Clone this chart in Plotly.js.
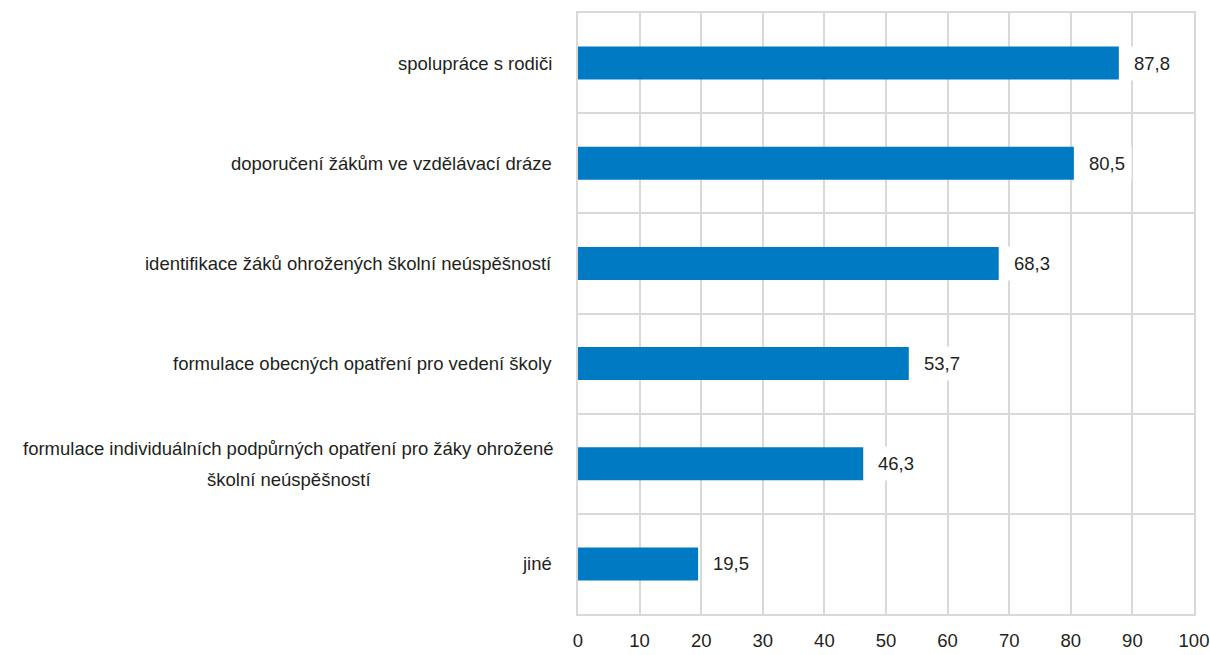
<!DOCTYPE html>
<html><head><meta charset="utf-8">
<script src="https://cdn.plot.ly/plotly-3.0.1.min.js"></script>
<style>html,body{margin:0;padding:0;background:#fff}#chart{width:1210px;height:655px}</style>
</head><body><div id="chart"></div>
<script>
const categories = [
  "spolupráce s rodiči",
  "doporučení žákům ve vzdělávací dráze",
  "identifikace žáků ohrožených školní neúspěšností",
  "formulace obecných opatření pro vedení školy",
  "formulace individuálních podpůrných opatření pro žáky ohrožené<br>školní neúspěšností",
  "jiné"
];
const values = [87.8, 80.5, 68.3, 53.7, 46.3, 19.5];
const xTicks = [0,10,20,30,40,50,60,70,80,90,100];

const n = categories.length;
const yPos = categories.map((c,i)=>n-1-i);
const FONT = "Liberation Sans, Arial, sans-serif";
const FS = 18.5;
const TXT = "#231f20";
const GRID = "#d9d9d9";
const LABEL_GAP = 24;

const ctx = document.createElement("canvas").getContext("2d");
ctx.font = FS + "px 'Liberation Sans', Arial, sans-serif";
const textW = s => ctx.measureText(s).width;

const trace = {
  type: "bar", orientation: "h",
  x: values, y: yPos, width: 0.33,
  marker: {color: "#007bc3"},
  hoverinfo: "x"
};

const annotations = [];
categories.forEach((c,i)=>{
  const lines = c.split("<br>");
  const k = lines.length;
  const maxW = Math.max(...lines.map(textW));
  lines.forEach((ln,j)=>{
    annotations.push({
      xref: "paper", yref: "y", x: 0, y: yPos[i],
      xanchor: k > 1 ? "center" : "right", yanchor: "middle",
      xshift: k > 1 ? -LABEL_GAP - maxW/2 : -LABEL_GAP,
      yshift: ((k-1)/2 - j)*31, text: ln, showarrow: false,
      font: {family: FONT, size: FS, color: TXT}
    });
  });
  annotations.push({
    xref: "x", yref: "y", x: values[i], y: yPos[i], xanchor: "left", yanchor: "middle",
    xshift: 8, text: values[i].toFixed(1).replace(".", ","), showarrow: false,
    bgcolor: "#ffffff", borderpad: 6,
    font: {family: FONT, size: FS, color: TXT}
  });
});

const layout = {
  width: 1210, height: 655,
  margin: {l: 578, r: 16, t: 13, b: 41},
  paper_bgcolor: "#fff", plot_bgcolor: "#fff",
  showlegend: false,
  separators: ",.",
  xaxis: {
    range: [0, 100], tickvals: xTicks, ticktext: xTicks.map(String),
    showgrid: true, gridcolor: GRID, gridwidth: 2,
    zeroline: false, showline: true, linecolor: GRID, linewidth: 2, mirror: true,
    ticks: "", ticklabelstandoff: 9, automargin: false,
    tickfont: {family: FONT, size: FS, color: TXT}, fixedrange: true
  },
  yaxis: {
    range: [-0.5, n-0.5], tickvals: yPos, showticklabels: false, ticks: "",
    showgrid: false, zeroline: false,
    showline: true, linecolor: GRID, linewidth: 2, mirror: true,
    minor: {tick0: 0.5, dtick: 1, showgrid: true, gridcolor: GRID, gridwidth: 2, ticks: ""},
    fixedrange: true
  },
  annotations: annotations,
  font: {family: FONT, color: TXT}
};

Plotly.newPlot("chart", [trace], layout, {displayModeBar: false, staticPlot: true});
</script>
</body></html>
